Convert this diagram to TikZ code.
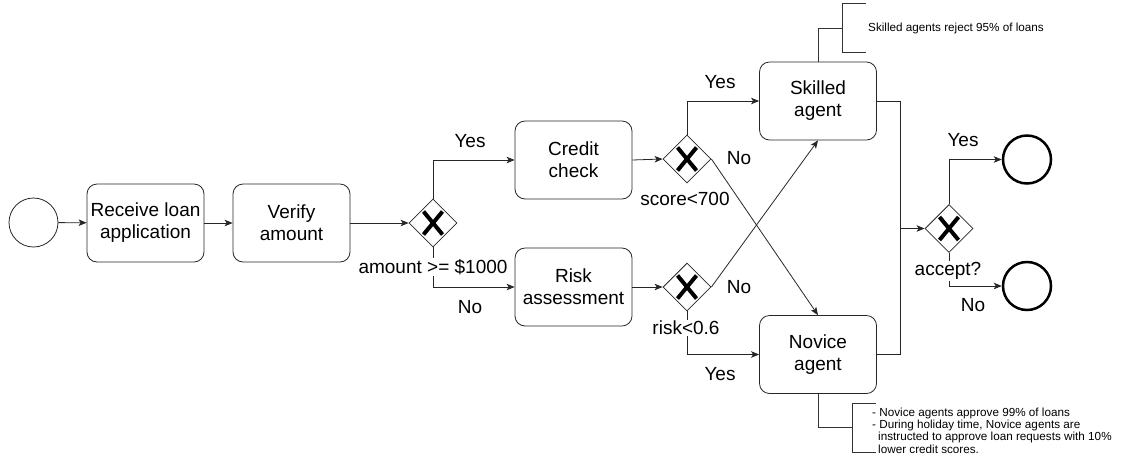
\documentclass[tikz,border=0pt]{standalone}
\usepackage{fontspec}
\setmainfont{Liberation Sans}
\usetikzlibrary{arrows.meta,shapes.geometric}
\tikzset{
  task/.style={draw=black!85, line width=0.8pt, rounded corners=10pt, minimum width=117pt,
    minimum height=78pt, inner sep=0pt, align=center, font=\fontsize{19}{22}\selectfont},
  gate/.style={draw=black!85, line width=0.8pt, diamond, minimum size=48pt, aspect=1, inner sep=0pt},
  startev/.style={draw=black!85, line width=0.8pt, circle, minimum size=49pt, inner sep=0pt},
  endev/.style={draw=black, line width=2.5pt, circle, minimum size=48pt, inner sep=0pt},
  flow/.style={draw=black!85, line width=0.8pt},
  arr/.style={flow, -{Stealth[length=8pt,width=6.5pt,inset=2pt]}},
  lbl/.style={font=\fontsize{19}{22}\selectfont, inner sep=1pt},
  cond/.style={lbl, fill=white},
  xmark/.style={line width=4pt, line cap=butt, black},
  note/.style={font=\fontsize{11.7}{12.3}\selectfont, align=left, inner sep=0pt, anchor=west},
  bracket/.style={draw=black!80, line width=0.8pt},
}
\begin{document}
\begin{tikzpicture}[x=1pt, y=-1pt]
\useasboundingbox (0,0) rectangle (1126,459);

% events and tasks
\node[startev] (start) at (33.5,222.5) {};
\node[task] (recv) at (145.5,223) {Receive loan\\application};
\node[task] (verify) at (291.5,223) {Verify\\amount};
\node[gate] (g1) at (433,223) {};
\node[task] (credit) at (573.5,160) {Credit\\check};
\node[task] (risk) at (573.5,287) {Risk\\assessment};
\node[gate] (g2) at (687,159) {};
\node[gate] (g3) at (687,287) {};
\node[task] (skilled) at (818,101) {Skilled\\agent};
\node[task] (novice) at (818,354.5) {Novice\\agent};
\node[gate] (g4) at (949,228.5) {};
\node[endev] (endyes) at (1027,159.5) {};
\node[endev] (endno) at (1027,286) {};
\coordinate (merge) at (900,228.5);

% exclusive gateway markers
\foreach \g in {g1,g2,g3,g4}{
  \draw[xmark] ([shift={(-9.5,-11.5)}]\g.center) -- ([shift={(9.5,11.5)}]\g.center);
  \draw[xmark] ([shift={(9.5,-11.5)}]\g.center) -- ([shift={(-9.5,11.5)}]\g.center);
}

% sequence flows
\draw[arr] (start) -- (recv);
\draw[arr] (recv) -- (verify);
\draw[arr] (verify) -- (g1.west);
\draw[arr] (g1.north) |- (credit.west);
\draw[arr] (g1.south) |- (risk.west);
\draw[arr] (credit.east) -- (g2.west);
\draw[arr] (risk.east) -- (g3.west);
\draw[arr] (g2.north) |- (skilled.west);
\draw[arr] (g2.east) -- (novice.north);
\draw[arr] (g3.east) -- (skilled.south);
\draw[arr] (g3.south) |- (novice.west);
\draw[flow] (skilled.east) -| (merge);
\draw[flow] (novice.east) -| (merge);
\draw[arr] (merge) -- (g4.west);
\draw[arr] (g4.north) |- (endyes.west);
\draw[arr] (g4.south) |- (endno.west);

% flow labels
\node[cond] (c1) at (433,267) {amount >= \$1000};
\node[lbl] (c2) at (685,199) {score<700};
\node[cond] (c3) at (686,328) {risk<0.6};
\node[cond] (c4) at (948,271) {accept?};
\node[lbl] (y1) at (470,141) {Yes};
\node[lbl] (n1) at (470,307) {No};
\node[lbl] (y2) at (720,82) {Yes};
\node[lbl] (n2) at (739,158) {No};
\node[lbl] (n3) at (739,287) {No};
\node[lbl] (y3) at (720,374) {Yes};
\node[lbl] (y4) at (963,140) {Yes};
\node[lbl] (n4) at (973,305) {No};

% annotations
\coordinate (sk) at (842,28);
\draw[bracket] (866,3) -- (842,3) -- (842,52) -- (866,52);
\draw[bracket] (skilled.north) |- (sk);
\node[note] (sknote) at (868,28) {Skilled agents reject 95\% of loans};

\coordinate (nv) at (852,427);
\draw[bracket] (876,403) -- (852,403) -- (852,452) -- (876,452);
\draw[bracket] (novice.south) |- (nv);
\node[note] (nvnote) at (872,430.5) {- Novice agents approve 99\% of loans\\- During holiday time, Novice agents are\\\hspace*{6pt}instructed to approve loan requests with 10\%\\\hspace*{6pt}lower credit scores.};
\end{tikzpicture}
\end{document}
